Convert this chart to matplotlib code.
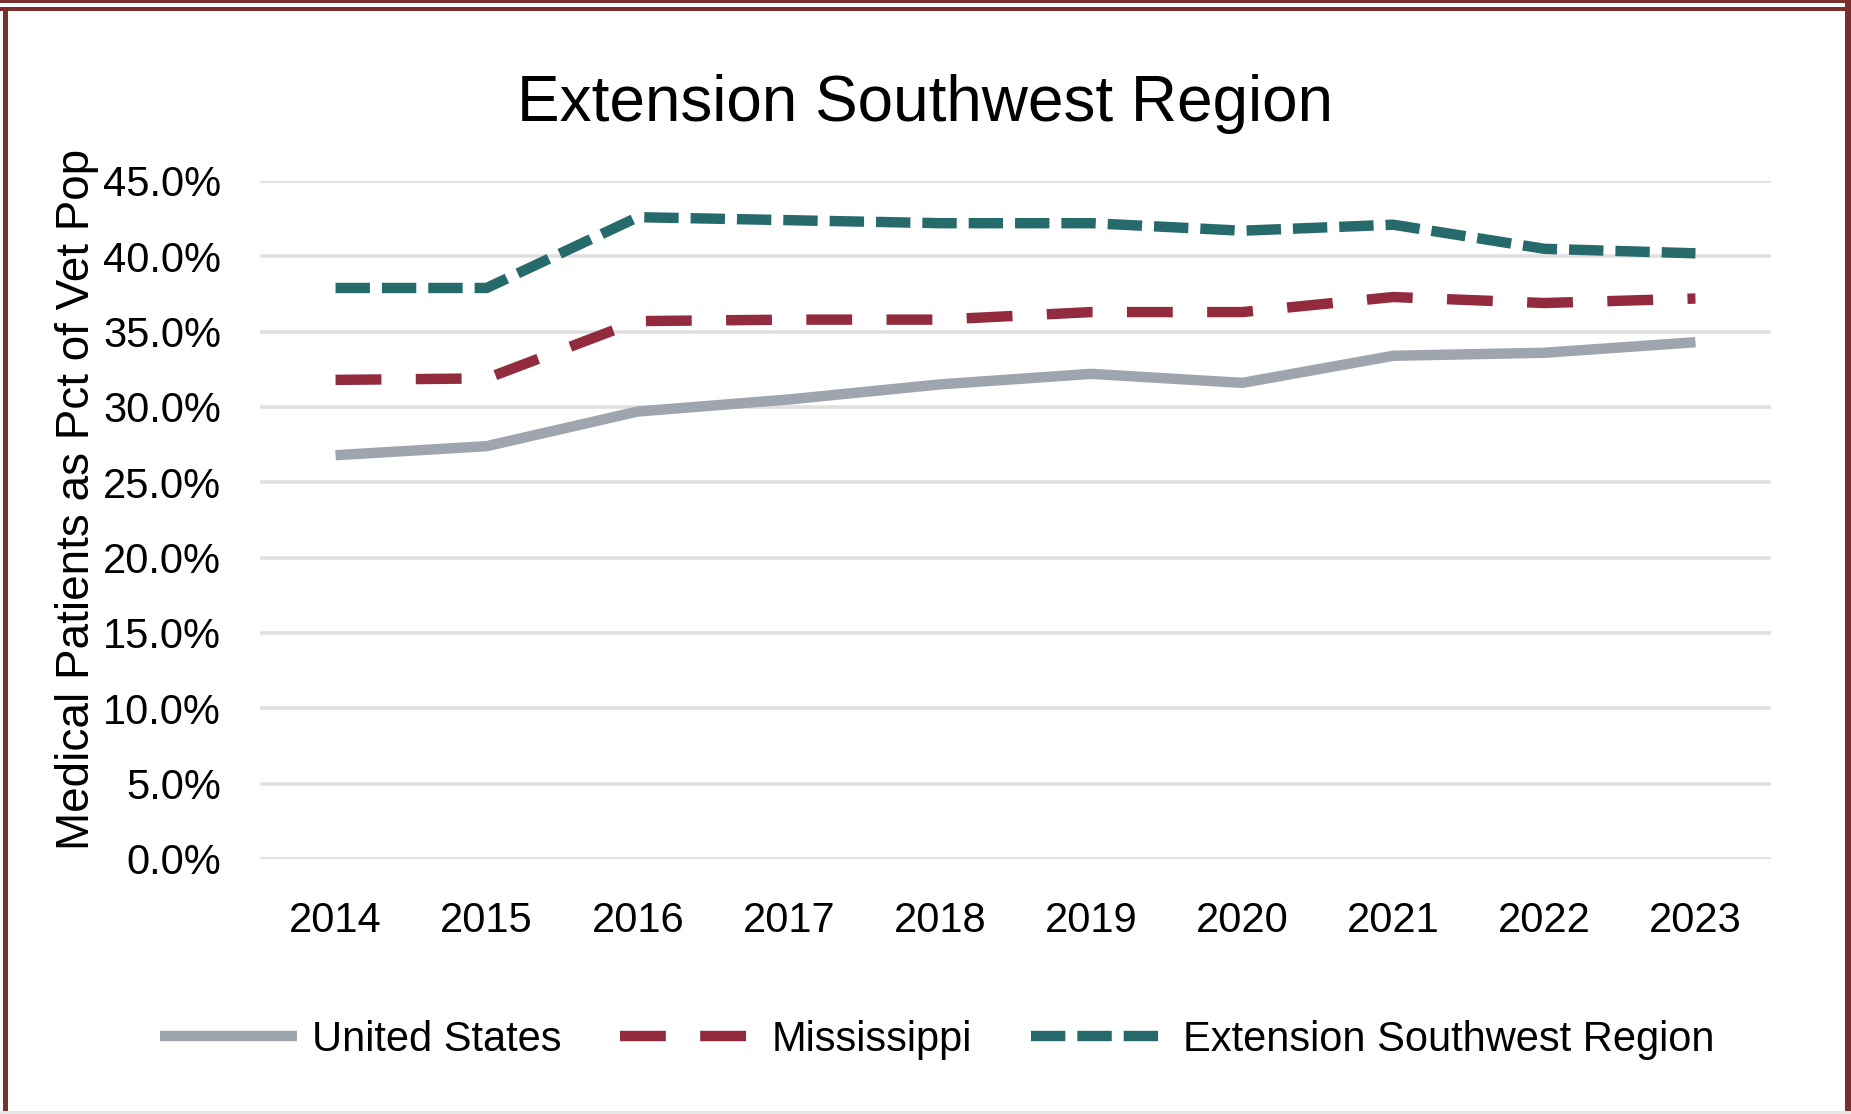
import matplotlib
matplotlib.use('Agg')
import matplotlib.pyplot as plt
from matplotlib.patches import Rectangle
from matplotlib.lines import Line2D
from matplotlib.ticker import FuncFormatter, MultipleLocator

years = ['2014', '2015', '2016', '2017', '2018', '2019', '2020', '2021', '2022', '2023']
united_states = [26.8, 27.4, 29.7, 30.5, 31.5, 32.2, 31.6, 33.4, 33.6, 34.3]
mississippi = [31.8, 31.9, 35.7, 35.8, 35.8, 36.3, 36.3, 37.3, 36.9, 37.2]
extension_sw = [37.9, 37.9, 42.6, 42.4, 42.2, 42.2, 41.7, 42.1, 40.5, 40.2]

title = 'Extension Southwest Region'
ylabel = 'Medical Patients as Pct of Vet Pop'
series_names = ['United States', 'Mississippi', 'Extension Southwest Region']

plt.rcParams['font.family'] = ['Liberation Sans', 'DejaVu Sans']

W, H = 1851, 1114
fig = plt.figure(figsize=(W / 100, H / 100), dpi=100)
fig.patch.set_facecolor('white')

# frame
maroon = '#7A2E2E'
fig.add_artist(Rectangle((0, 1 - 3 / H), 1, 3 / H, transform=fig.transFigure, color=maroon, lw=0))
fig.add_artist(Rectangle((0, 1 - 11 / H), 1, 4 / H, transform=fig.transFigure, color=maroon, lw=0))
fig.add_artist(Rectangle((3 / W, 0), 5 / W, 1 - 7 / H, transform=fig.transFigure, color=maroon, lw=0))
fig.add_artist(Rectangle((1 - 6 / W, 0), 6 / W, 1, transform=fig.transFigure, color=maroon, lw=0))
fig.add_artist(Rectangle((0, 0), 1, 3 / H, transform=fig.transFigure, color='#E6E6E6', lw=0))

left, right = 260 / W, 1771 / W
top, bottom = 1 - 181 / H, 1 - 859 / H
ax = fig.add_axes([left, bottom, right - left, top - bottom])

x = list(range(len(years)))
lw = 7.5
ms_dash = (4.4, 3.3)
esr_dash = (3.3, 1.15)
ax.plot(x, united_states, color='#9EA5AE', lw=lw, solid_capstyle='butt', solid_joinstyle='round', zorder=3)
ax.plot(x, mississippi, color='#912B3D', lw=lw, dashes=ms_dash, dash_capstyle='butt', zorder=3)
ax.plot(x, extension_sw, color='#276A6B', lw=lw, dashes=esr_dash, dash_capstyle='butt', zorder=3)

ax.set_xlim(-0.5, len(years) - 0.5)
ax.set_ylim(0, 45)
ax.yaxis.set_major_locator(MultipleLocator(5))
ax.yaxis.set_major_formatter(FuncFormatter(lambda v, p: f'{v:.1f}%'))
ax.set_xticks(x)
ax.set_xticklabels(years)
ax.grid(axis='y', color='#E0E0E0', lw=2.6, zorder=0)
ax.set_axisbelow(True)
for s in ax.spines.values():
    s.set_visible(False)
ax.tick_params(axis='both', length=0, labelsize=30, colors='black')
ax.tick_params(axis='y', pad=28)
ax.tick_params(axis='x', pad=30)

fig.text(77 / W, 1 - 499 / H, ylabel, rotation=90, ha='center', va='center', fontsize=33)
fig.text(925 / W, 1 - 121 / H, title, ha='center', va='baseline', fontsize=46)

handles = [
    Line2D([], [], color='#9EA5AE', lw=lw, solid_capstyle='butt'),
    Line2D([], [], color='#912B3D', lw=lw, dashes=ms_dash, dash_capstyle='butt'),
    Line2D([], [], color='#276A6B', lw=lw, dashes=esr_dash, dash_capstyle='butt'),
]
fig.legend(handles, series_names, loc='center', bbox_to_anchor=(937 / W, 1 - 1040 / H),
           ncol=3, frameon=False, fontsize=30, handlelength=3.3, handletextpad=0.35,
           columnspacing=1.4)

fig.savefig('out.png', dpi=100, facecolor='white')
